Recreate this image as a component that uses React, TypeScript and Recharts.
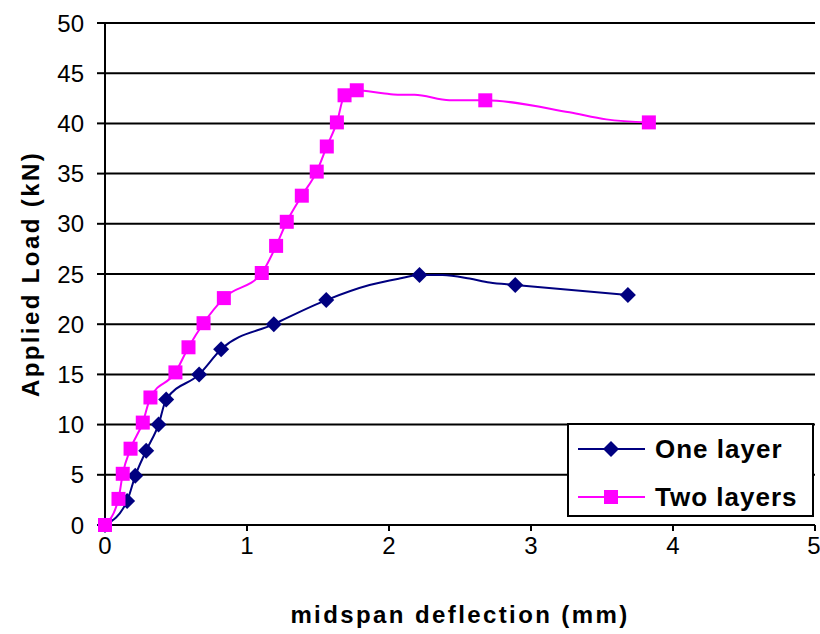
import React from 'react';
import { LineChart, Line, XAxis, YAxis, CartesianGrid, Legend, Label } from 'recharts';

const FONT = '"Liberation Sans", Arial, Helvetica, sans-serif';

const deflectionTicks = [0, 1, 2, 3, 4, 5];
const loadTicks = [0, 5, 10, 15, 20, 25, 30, 35, 40, 45, 50];

const seriesNames = ['One layer', 'Two layers'];
const seriesColors = ['#000080', '#FF00FF'];

// one layer: measured points (marked = 1 where a diamond is drawn)
const oneLayerDeflection = [0, 0.156, 0.213, 0.29, 0.377, 0.431, 0.663, 0.818, 1.189, 1.558, 1.863, 2.074, 2.215, 2.377, 2.567, 2.708, 2.889, 3.682];
const oneLayerLoad = [0, 2.4, 4.9, 7.4, 10.0, 12.5, 15.0, 17.5, 20.0, 22.4, 23.9, 24.55, 24.9, 24.9, 24.55, 24.15, 23.9, 22.9];
const oneLayerMarked = [1, 1, 1, 1, 1, 1, 1, 1, 1, 1, 0, 0, 1, 0, 0, 0, 1, 1];

// two layers
const twoLayerDeflection = [0, 0.095, 0.125, 0.18, 0.266, 0.32, 0.496, 0.588, 0.694, 0.837, 1.104, 1.205, 1.28, 1.386, 1.491, 1.562, 1.633, 1.687, 1.773, 1.956, 2.062, 2.18, 2.426, 2.678, 3.271, 3.53, 3.83];
const twoLayerLoad = [0, 2.6, 5.1, 7.6, 10.2, 12.7, 15.2, 17.7, 20.1, 22.6, 25.1, 27.8, 30.2, 32.8, 35.2, 37.7, 40.1, 42.8, 43.3, 43.0, 42.85, 42.85, 42.3, 42.3, 41.1, 40.4, 40.1];
const twoLayerMarked = [1, 1, 1, 1, 1, 1, 1, 1, 1, 1, 1, 1, 1, 1, 1, 1, 1, 1, 1, 0, 0, 0, 0, 1, 0, 0, 1];

const toPoints = (xs: number[], ys: number[], marks: number[]) =>
  xs.map((x, i) => ({ x, y: ys[i], marked: marks[i] === 1 }));

const oneLayer = toPoints(oneLayerDeflection, oneLayerLoad, oneLayerMarked);
const twoLayers = toPoints(twoLayerDeflection, twoLayerLoad, twoLayerMarked);

const diamondDot = (props: any) => {
  const { cx, cy, payload, index } = props;
  if (!payload?.marked || cx == null || cy == null) return <g key={`d-${index}`} />;
  const r = 8;
  return (
    <path
      key={`d-${index}`}
      d={`M${cx},${cy - r}L${cx + r},${cy}L${cx},${cy + r}L${cx - r},${cy}Z`}
      fill={seriesColors[0]}
    />
  );
};

const squareDot = (props: any) => {
  const { cx, cy, payload, index } = props;
  if (!payload?.marked || cx == null || cy == null) return <g key={`s-${index}`} />;
  return <rect key={`s-${index}`} x={cx - 7} y={cy - 7} width={14} height={14} fill={seriesColors[1]} />;
};

const renderYTitle = (props: any) => {
  const { viewBox } = props;
  const x = viewBox.x + 30;
  const y = viewBox.y + viewBox.height / 2;
  return (
    <text
      x={x}
      y={y}
      transform={`rotate(-90, ${x}, ${y})`}
      textAnchor="middle"
      dominantBaseline="central"
      fontFamily={FONT}
      fontSize={24}
      fontWeight="bold"
      letterSpacing={2.4}
      fill="#000"
    >
      Applied Load (kN)
    </text>
  );
};

const renderXTitle = (props: any) => {
  const { viewBox } = props;
  return (
    <text
      x={viewBox.x + viewBox.width / 2}
      y={viewBox.y + 98}
      textAnchor="middle"
      fontFamily={FONT}
      fontSize={24}
      fontWeight="bold"
      letterSpacing={2.4}
      fill="#000"
    >
      midspan deflection (mm)
    </text>
  );
};

const LegendBox = () => (
  <svg width={247} height={94} style={{ display: 'block' }}>
    <rect x={1} y={1} width={245} height={92} fill="#fff" stroke="#000" strokeWidth={2} />
    {seriesNames.map((name, i) => {
      const cy = 26 + i * 48;
      return (
        <g key={name}>
          <line x1={11} x2={78} y1={cy} y2={cy} stroke={seriesColors[i]} strokeWidth={2} />
          {i === 0 ? (
            <path d={`M44,${cy - 8}L52,${cy}L44,${cy + 8}L36,${cy}Z`} fill={seriesColors[i]} />
          ) : (
            <rect x={37} y={cy - 7} width={14} height={14} fill={seriesColors[i]} />
          )}
          <text
            x={88}
            y={cy + 9}
            fontFamily={FONT}
            fontSize={26}
            fontWeight="bold"
            letterSpacing={1}
            fill="#000"
          >
            {name}
          </text>
        </g>
      );
    })}
  </svg>
);

export default function App() {
  return (
    <div style={{ position: 'absolute', left: 0, top: 0, width: 820, height: 634, background: '#fff' }}>
      <LineChart width={820} height={634} margin={{ top: 23, right: 5, bottom: 0, left: 0 }}>
        <CartesianGrid vertical={false} stroke="#000" strokeWidth={2} />
        <XAxis
          type="number"
          dataKey="x"
          domain={[0, 5]}
          ticks={deflectionTicks}
          height={109}
          tickSize={6}
          tickMargin={6}
          axisLine={{ stroke: '#000', strokeWidth: 2 }}
          tickLine={{ stroke: '#000', strokeWidth: 2 }}
          tick={{ fill: '#000', fontSize: 24, fontFamily: FONT }}
        >
          <Label content={renderXTitle} />
        </XAxis>
        <YAxis
          type="number"
          domain={[0, 50]}
          ticks={loadTicks}
          width={105}
          tickSize={8}
          tickMargin={13}
          axisLine={{ stroke: '#000', strokeWidth: 2 }}
          tickLine={{ stroke: '#000', strokeWidth: 2 }}
          tick={{ fill: '#000', fontSize: 24, fontFamily: FONT }}
        >
          <Label content={renderYTitle} />
        </YAxis>
        <Line
          data={oneLayer}
          dataKey="y"
          name={seriesNames[0]}
          type="monotone"
          stroke={seriesColors[0]}
          strokeWidth={2}
          dot={diamondDot}
          activeDot={false}
          isAnimationActive={false}
        />
        <Line
          data={twoLayers}
          dataKey="y"
          name={seriesNames[1]}
          type="monotone"
          stroke={seriesColors[1]}
          strokeWidth={2}
          dot={squareDot}
          activeDot={false}
          isAnimationActive={false}
        />
        <Legend
          layout="vertical"
          align="center"
          verticalAlign="middle"
          content={<LegendBox />}
          wrapperStyle={{ position: 'absolute', left: 567, top: 423, width: 247, height: 94 }}
        />
      </LineChart>
    </div>
  );
}
